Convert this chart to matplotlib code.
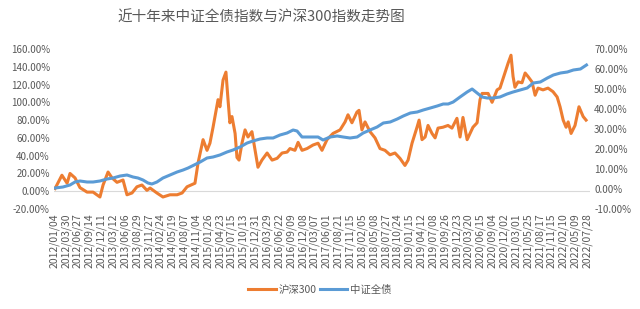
import matplotlib
matplotlib.use("Agg")
import matplotlib.pyplot as plt
from matplotlib.lines import Line2D

plt.rcParams['font.family'] = ['Noto Sans CJK SC', 'DejaVu Sans']

# category labels shown on the x axis (one every 57 trading days)
tick_labels = [
    "2012/01/04", "2012/03/30", "2012/06/27", "2012/09/14", "2012/12/11",
    "2013/03/12", "2013/06/06", "2013/08/29", "2013/11/27", "2014/02/24",
    "2014/05/19", "2014/08/07", "2014/11/04", "2015/01/26", "2015/04/23",
    "2015/07/15", "2015/10/13", "2015/12/31", "2016/03/29", "2016/06/22",
    "2016/09/09", "2016/12/08", "2017/03/07", "2017/06/01", "2017/08/21",
    "2017/11/15", "2018/02/05", "2018/05/08", "2018/07/27", "2018/10/24",
    "2019/01/15", "2019/04/12", "2019/07/08", "2019/09/26", "2019/12/23",
    "2020/03/20", "2020/06/15", "2020/09/04", "2020/12/02", "2021/03/01",
    "2021/05/25", "2021/08/17", "2021/11/15", "2022/02/10", "2022/05/09",
    "2022/07/28",
]
tick_step = 57

# 沪深300 cumulative return (%), by trading-day index
hs300_day = [5, 38, 63, 77, 101, 125, 159, 188, 221, 236, 260, 279, 303, 332,
             351, 375, 399, 423, 447, 462, 495, 524, 558, 592, 616, 640, 678,
             693, 717, 736, 750, 765, 789, 798, 813, 827, 837, 846, 856, 871,
             880, 890, 904, 919, 933, 952, 967, 981, 1000, 1025, 1049, 1073,
             1097, 1121, 1135, 1159, 1174, 1193, 1217, 1246, 1270, 1289, 1313,
             1342, 1376, 1400, 1414, 1433, 1457, 1467, 1481, 1496, 1520, 1544,
             1568, 1592, 1616, 1640, 1664, 1688, 1703, 1722, 1746, 1756, 1770,
             1785, 1799, 1818, 1833, 1847, 1871, 1895, 1914, 1938, 1953, 1967,
             1987, 2001, 2015, 2035, 2049, 2059, 2073, 2088, 2107, 2131, 2145,
             2169, 2184, 2198, 2208, 2217, 2232, 2251, 2266, 2280, 2299, 2314,
             2328, 2352, 2376, 2400, 2420, 2434, 2449, 2463, 2473, 2487, 2506,
             2525, 2545, 2559]
hs300_val = [3, 18, 9, 20, 15, 4, -1, -1, -6.5, 7, 21.6, 15, 10, 12.6,
             -4, -2, 5, 7, 1, 3.6, -2, -6.5, -4, -4, -2, 5, 9,
             32, 58, 46, 54, 72, 103, 95, 125, 134, 103, 77, 84, 65,
             38, 35, 54, 69, 61, 67, 46, 27, 35, 43, 35, 37,
             43, 44, 48, 46, 55, 46, 48, 52, 54, 46, 58,
             65, 69, 78, 86, 77, 89, 91, 69, 78, 67, 60,
             48, 46, 41, 43, 37, 29, 35, 54, 72, 80, 58,
             61, 74, 65, 60, 71, 72, 74, 71, 82, 61, 83,
             58, 65, 72, 77, 103, 110, 110, 110, 100, 114, 116,
             133, 144, 153, 129, 117, 123, 122, 133, 129, 123, 108,
             116, 114, 116, 112, 106, 95, 80, 72, 78, 65, 74,
             95, 84, 80]

# 中证全债 cumulative return (%), right axis
bond_day = [5, 43, 77, 101, 125, 159, 188, 221, 255, 284, 318, 351, 380, 404,
            428, 452, 471, 495, 524, 558, 592, 621, 645, 703, 736, 765, 798,
            832, 861, 895, 929, 957, 991, 1025, 1054, 1087, 1121, 1150, 1169,
            1193, 1217, 1246, 1270, 1294, 1328, 1362, 1391, 1424, 1458, 1487,
            1520, 1554, 1584, 1617, 1651, 1680, 1714, 1747, 1776, 1810, 1843,
            1872, 1896, 1920, 1953, 1987, 2011, 2035, 2059, 2083, 2112, 2145,
            2179, 2208, 2242, 2276, 2305, 2339, 2373, 2402, 2436, 2469, 2498,
            2532, 2561]
bond_val = [0.5, 1, 2, 3.5, 4, 3.5, 3.5, 4, 5, 5.5, 6.5, 7, 6, 5.5,
            4.5, 3, 2.5, 3.5, 5.5, 7, 8.5, 9.5, 10.5, 13.5, 15.5, 16, 17,
            18.5, 19.5, 21, 23, 24, 25, 25.5, 25.5, 27, 28, 29.5, 29,
            26, 26, 26, 26, 24.5, 26, 26.5, 26, 25.5, 26, 28,
            29.5, 31, 33, 33.5, 35, 36.5, 38, 38.5, 39.5, 40.5, 41.5,
            42.5, 42.5, 43.5, 46, 48.5, 50, 48, 46, 45.5, 45.5, 46,
            47.5, 48.5, 49.5, 50.5, 53, 53.5, 55.5, 57, 58, 58.5, 59.5,
            60, 62]

orange = '#ED7D31'
blue = '#5B9BD5'
grey = '#595959'

fig = plt.figure(figsize=(6.4, 3.09), dpi=100)
ax = fig.add_axes([54 / 640, 1 - 209 / 309, 536 / 640, 160 / 309])
ax2 = ax.twinx()

ax.plot(hs300_day, hs300_val, color=orange, lw=2.2, solid_joinstyle='round')
ax2.plot(bond_day, bond_val, color=blue, lw=2.2, solid_joinstyle='round')

ax.set_xlim(0, 2578)
ax.set_ylim(-20, 160)
ax2.set_ylim(-10, 70)
ax.axhline(0, color='#d9d9d9', lw=0.8, zorder=0)

ax.set_xticks([i * tick_step for i in range(len(tick_labels))])
ax.set_xticklabels(tick_labels, rotation=90, fontsize=7.5, color=grey)
ax.set_yticks(range(-20, 161, 20))
ax.set_yticklabels([f"{v:.2f}%" for v in range(-20, 161, 20)], fontsize=7, color=grey)
ax2.set_yticks(range(-10, 71, 10))
ax2.set_yticklabels([f"{v:.2f}%" for v in range(-10, 71, 10)], fontsize=7, color=grey)

for a in (ax, ax2):
    for s in a.spines.values():
        s.set_visible(False)
    a.tick_params(length=0, pad=3)

fig.text(261 / 640, 1 - 18 / 309, "近十年来中证全债指数与沪深300指数走势图",
         ha='center', va='center', fontsize=10.5, color=grey)

handles = [Line2D([], [], color=orange, lw=2.2), Line2D([], [], color=blue, lw=2.2)]
fig.legend(handles, ["沪深300", "中证全债"], loc='center', bbox_to_anchor=(320 / 640, 1 - 290 / 309),
           ncol=2, frameon=False, fontsize=7.5, labelcolor=grey, handlelength=2.6,
           handletextpad=0.3, columnspacing=0.3)

fig.savefig("out.png", dpi=100)
